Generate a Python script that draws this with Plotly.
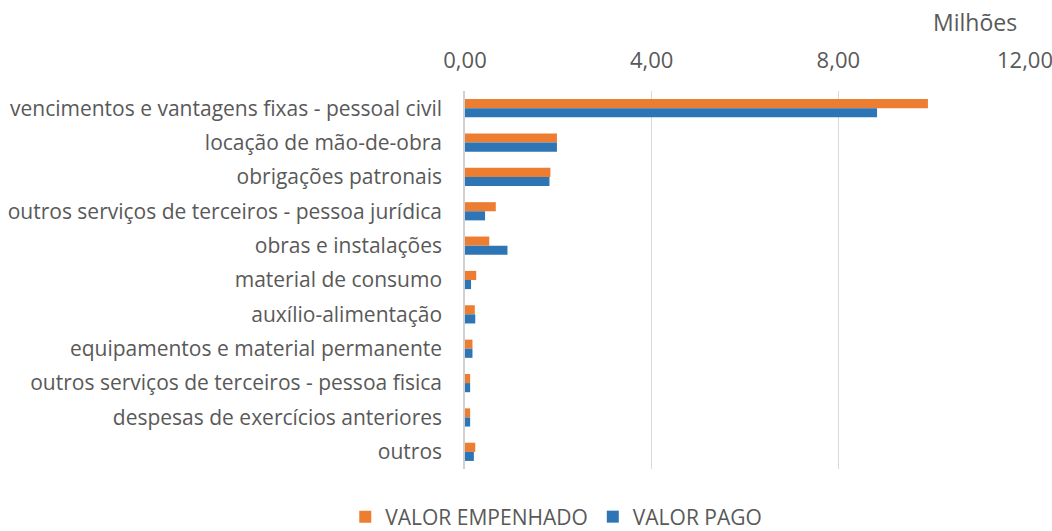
import plotly.graph_objects as go

categories = [
    "vencimentos e vantagens fixas - pessoal civil",
    "locação de mão-de-obra",
    "obrigações patronais",
    "outros serviços de terceiros - pessoa jurídica",
    "obras e instalações",
    "material de consumo",
    "auxílio-alimentação",
    "equipamentos e material permanente",
    "outros serviços de terceiros - pessoa fisica",
    "despesas de exercícios anteriores",
    "outros",
]
valor_empenhado = [9.92, 1.97, 1.83, 0.66, 0.52, 0.24, 0.21, 0.16, 0.11, 0.11, 0.22]
valor_pago = [8.83, 1.97, 1.81, 0.43, 0.91, 0.13, 0.22, 0.16, 0.11, 0.11, 0.19]
x_ticks = [0, 4, 8, 12]

font_family = "Open Sans"
grey = "#595959"

fig = go.Figure()
fig.add_trace(go.Bar(
    y=categories, x=valor_empenhado, orientation="h", name="VALOR EMPENHADO",
    marker=dict(color="#ED7D31", line=dict(width=0)),
))
fig.add_trace(go.Bar(
    y=categories, x=valor_pago, orientation="h", name="VALOR PAGO",
    marker=dict(color="#2E75B6", line=dict(width=0)),
))

fig.update_layout(
    width=1052, height=531,
    margin=dict(l=465, r=27, t=91, b=62, autoexpand=False),
    paper_bgcolor="white", plot_bgcolor="white",
    barmode="group", bargap=0.47, bargroupgap=0,
    separators=",.",
    font=dict(family=font_family, size=21, color=grey),
    showlegend=True,
    legend=dict(orientation="h", x=0.163, xanchor="center", y=-0.127, yanchor="middle",
                font=dict(size=21, color=grey), traceorder="normal", itemwidth=30),
    xaxis=dict(side="top", range=[0, 12], tickvals=x_ticks, tickformat=".2f",
               showgrid=True, gridcolor="#d9d9d9", gridwidth=1, zeroline=False,
               showline=False, ticks="", ticklabelstandoff=18, automargin=False,
               ticklabeloverflow="allow",
               tickfont=dict(size=22, color=grey)),
    yaxis=dict(autorange="reversed", showgrid=False, zeroline=False,
               showline=True, linecolor="#d0d0d0", linewidth=1.5, ticks="",
               automargin=False, ticklabelstandoff=17,
               tickfont=dict(size=21, color=grey)),
    annotations=[dict(text="Milhões", xref="paper", yref="paper",
                      x=0.911, y=1.183, xanchor="center", yanchor="middle",
                      showarrow=False, font=dict(size=23, color=grey))],
)

fig.write_html("out.html", config={"displayModeBar": False},
               post_script="document.body.style.margin='0';document.body.style.overflow='hidden';")
